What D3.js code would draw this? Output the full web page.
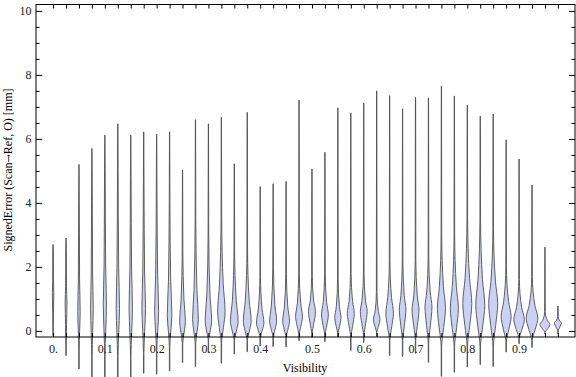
<!DOCTYPE html>
<html>
<head>
<meta charset="utf-8">
<script src="https://cdn.jsdelivr.net/npm/d3@7"></script>
<style>
  body { margin: 0; background: #fff; }
  svg { display: block; font-family: "Liberation Serif", "Times New Roman", serif; }
</style>
</head>
<body>
<div id="chart"></div>
<script>
// one violin per visibility bin
const visibility = [0, 0.025, 0.05, 0.075, 0.1, 0.125, 0.15, 0.175, 0.2, 0.225,
  0.25, 0.275, 0.3, 0.325, 0.35, 0.375, 0.4, 0.425, 0.45, 0.475,
  0.5, 0.525, 0.55, 0.575, 0.6, 0.625, 0.65, 0.675, 0.7, 0.725,
  0.75, 0.775, 0.8, 0.825, 0.85, 0.875, 0.9, 0.925, 0.95, 0.975];

const errMax = [2.7, 2.9, 5.2, 5.7, 6.12, 6.47, 6.12, 6.22, 6.15, 6.22,
  5.03, 6.6, 6.47, 6.68, 5.22, 6.83, 4.51, 4.6, 4.67, 7.21,
  5.06, 5.58, 6.97, 6.81, 7.12, 7.5, 7.35, 6.94, 7.3, 7.28,
  7.65, 7.34, 7.05, 6.71, 6.78, 5.97, 5.37, 4.56, 2.62, 0.78];

const errMin = [-0.15, -0.77, -1.19, -1.5, -1.5, -1.5, -1.5, -1.32, -1.35, -1.25,
  -0.99, -1.11, -0.68, -1.01, -0.72, -0.65, -0.47, -0.49, -0.5, -0.3,
  -0.2, -0.33, -0.18, -0.61, -0.36, -0.17, -0.77, -0.8, -0.7, -0.98,
  -1.42, -1.29, -1.13, -1.05, -1.11, -0.66, -0.4, -0.52, -0.1, -0.1];

// most likely value (widest point of each violin)
const errMode = [1.2, 0.9, 0.6, 0.7, 0.8, 0.7, 0.7, 0.7, 0.6, 0.5,
  0.3, 0.35, 0.3, 0.6, 0.3, 0.3, 0.25, 0.3, 0.3, 0.45,
  0.6, 0.5, 0.4, 0.55, 0.6, 0.35, 0.55, 0.65, 0.65, 0.75,
  0.7, 0.7, 0.85, 0.8, 0.85, 0.45, 0.35, 0.4, 0.2, 0.25];

// relative density at the mode
const peakDensity = [0.12, 0.15, 0.2, 0.22, 0.26, 0.28, 0.28, 0.3, 0.33, 0.38,
  0.48, 0.48, 0.54, 0.62, 0.64, 0.65, 0.62, 0.58, 0.57, 0.57,
  0.58, 0.57, 0.52, 0.58, 0.57, 0.55, 0.63, 0.55, 0.57, 0.58,
  0.67, 0.67, 0.75, 0.75, 0.75, 0.83, 0.88, 0.97, 0.83, 0.6];

// where the bulk of the density begins and ends
const bulkLow = [-0.1, -0.5, -0.6, -0.8, -0.8, -0.8, -0.8, -0.7, -0.6, -0.5,
  -0.4, -0.4, -0.3, -0.4, -0.3, -0.3, -0.2, -0.2, -0.2, -0.15,
  -0.1, -0.15, -0.1, -0.2, -0.15, -0.05, -0.3, -0.3, -0.3, -0.4,
  -0.5, -0.5, -0.5, -0.5, -0.5, -0.35, -0.25, -0.3, -0.05, 0.0];

const bulkHigh = [2.5, 2.5, 4, 4.5, 5, 5, 4.8, 4.5, 4.5, 4,
  2.5, 3.5, 3, 3.5, 2.5, 2.5, 1.7, 2, 1.8, 1.8,
  1.7, 1.8, 1.6, 1.8, 1.8, 1.2, 2.2, 2.2, 2.2, 2.3,
  3, 3, 3.5, 3.5, 3.2, 2, 1.6, 1.7, 0.6, 0.45];

const xTickLabels = [0, 0.1, 0.2, 0.3, 0.4, 0.5, 0.6, 0.7, 0.8, 0.9];
const yMajor = [0, 2, 4, 6, 8, 10];
const yMinor = [0.5, 1, 1.5, 2.5, 3, 3.5, 4.5, 5, 5.5, 6.5, 7, 7.5, 8.5, 9, 9.5];

const W = 576, H = 377;
const mLeft = 36, mRight = 575, mTop = 4.5, mBottom = 337;

const svg = d3.select("#chart").append("svg")
  .attr("width", W)
  .attr("height", H);

const x = d3.scaleLinear().domain([-0.033, 1.008]).range([mLeft, mRight]);
const y = d3.scaleLinear().domain([-0.19, 10.2]).range([mBottom, mTop]);
const halfWidth = d3.scaleLinear().domain([0, 1]).range([0, 6]);

const violins = visibility.map((v, i) => ({
  v, lo: errMin[i], hi: errMax[i], mode: errMode[i], peak: peakDensity[i],
  low: bulkLow[i], high: bulkHigh[i]
}));

// outline of the density, listed top to bottom
function profile(d) {
  const tail = 0.035;
  return [
    [d.hi, tail * 0.5],
    [d.high, tail * 1.5],
    [d.mode + (d.high - d.mode) * 0.3, d.peak * 0.5],
    [d.mode, d.peak],
    [(d.low + d.mode) / 2, d.peak * 0.55],
    [d.low, tail],
    [d.lo, tail]
  ];
}

const area = d3.area()
  .curve(d3.curveMonotoneY)
  .y(p => y(p[0]));

svg.append("g").selectAll("path")
  .data(violins)
  .join("path")
  .attr("d", d => area
    .x0(p => x(d.v) - halfWidth(p[1]))
    .x1(p => x(d.v) + halfWidth(p[1]))(profile(d)))
  .attr("fill", "#cbd1f4")
  .attr("stroke", "#505050")
  .attr("stroke-width", 0.9);

// frame ticks
function tickStyle(g) {
  g.select(".domain").remove();
  g.selectAll(".tick line").attr("stroke", "#000");
  g.selectAll("text").attr("fill", "#222").style("font-size", "12px")
    .style("font-family", "'Liberation Serif', 'Times New Roman', serif");
}

svg.append("g").attr("transform", `translate(${mLeft},0)`)
  .call(d3.axisLeft(y).tickValues(yMajor).tickSize(-6).tickPadding(4.5).tickFormat(d3.format("d")))
  .call(tickStyle);
svg.append("g").attr("transform", `translate(${mLeft},0)`)
  .call(d3.axisLeft(y).tickValues(yMinor).tickSize(-3.5).tickFormat(""))
  .call(tickStyle);
svg.append("g").attr("transform", `translate(${mRight},0)`)
  .call(d3.axisRight(y).tickValues(yMajor).tickSize(-6).tickFormat(""))
  .call(tickStyle);
svg.append("g").attr("transform", `translate(${mRight},0)`)
  .call(d3.axisRight(y).tickValues(yMinor).tickSize(-3.5).tickFormat(""))
  .call(tickStyle);

svg.append("g").attr("transform", `translate(0,${mBottom})`)
  .call(d3.axisBottom(x).tickValues(visibility).tickSize(-4).tickFormat(""))
  .call(tickStyle);
svg.append("g").attr("transform", `translate(0,${mBottom})`)
  .call(d3.axisBottom(x).tickValues(xTickLabels).tickSize(0).tickPadding(7)
    .tickFormat(d => d === 0 ? "0." : d3.format(".1f")(d)))
  .call(tickStyle);
svg.append("g").attr("transform", `translate(0,${mTop})`)
  .call(d3.axisTop(x).tickValues(visibility).tickSize(-4).tickFormat(""))
  .call(tickStyle);

svg.append("rect")
  .attr("x", mLeft).attr("y", mTop)
  .attr("width", mRight - mLeft).attr("height", mBottom - mTop)
  .attr("fill", "none").attr("stroke", "#000").attr("stroke-width", 1);

svg.append("text")
  .attr("x", 305).attr("y", 372)
  .attr("text-anchor", "middle")
  .style("font-size", "12px")
  .text("Visibility");

const yLabel = svg.append("text")
  .attr("transform", "translate(12,170) rotate(-90)")
  .attr("text-anchor", "middle")
  .style("font-size", "12px");
yLabel.append("tspan").text("SignedError (Scan");
yLabel.append("tspan").style("font-family", "'DejaVu Serif', serif").style("font-size", "10px").text("\u2192");
yLabel.append("tspan").text("Ref, O) [mm]");
</script>
</body>
</html>
